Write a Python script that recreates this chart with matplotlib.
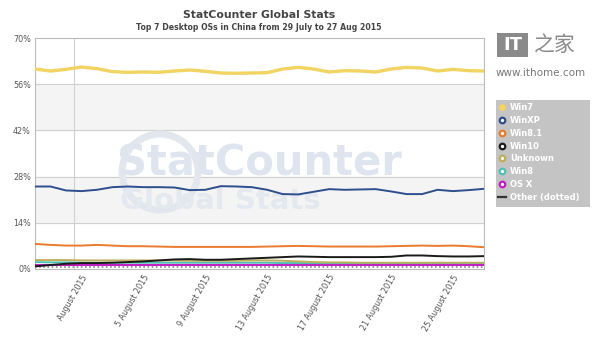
"""StatCounter: top 7 desktop OSs in China, 29 July - 27 Aug 2015."""
import matplotlib
matplotlib.use('Agg')
import matplotlib.pyplot as plt
import matplotlib.patches as patches
from matplotlib.lines import Line2D

plt.rcParams['font.family'] = ['DejaVu Sans', 'Noto Sans CJK SC']

days = list(range(30))  # 29 July .. 27 Aug
tick_days = [3, 7, 11, 15, 19, 23, 27]
tick_labels = ['August 2015', '5 August 2015', '9 August 2015', '13 August 2015',
               '17 August 2015', '21 August 2015', '25 August 2015']

win7 = [60.6, 60.0, 60.5, 61.2, 60.7, 59.8, 59.6, 59.7, 59.6, 60.0,
        60.3, 59.9, 59.4, 59.3, 59.4, 59.5, 60.6, 61.1, 60.6, 59.7,
        60.1, 60.0, 59.7, 60.6, 61.1, 60.9, 60.0, 60.5, 60.1, 60.0]
winxp = [25.0, 25.0, 23.8, 23.6, 24.0, 24.8, 25.0, 24.8, 24.8, 24.7,
         23.9, 24.0, 25.1, 25.0, 24.8, 24.0, 22.7, 22.6, 23.4, 24.2,
         24.0, 24.1, 24.2, 23.5, 22.7, 22.7, 24.0, 23.6, 23.9, 24.3]
win81 = [7.6, 7.3, 7.1, 7.1, 7.3, 7.1, 6.9, 6.9, 6.8, 6.7,
         6.7, 6.7, 6.7, 6.7, 6.7, 6.8, 6.9, 7.0, 6.9, 6.8,
         6.8, 6.8, 6.8, 6.9, 7.0, 7.1, 7.0, 7.1, 6.9, 6.6]
win10 = [0.8, 1.2, 1.6, 1.8, 1.8, 1.9, 2.1, 2.3, 2.6, 2.9,
         3.0, 2.8, 2.8, 3.0, 3.2, 3.4, 3.6, 3.8, 3.7, 3.6,
         3.6, 3.6, 3.6, 3.7, 4.1, 4.1, 3.9, 3.8, 3.8, 3.9]
unknown = [2.7, 2.7, 2.7, 2.6, 2.6, 2.6, 2.6, 2.6, 2.6, 2.6,
           2.5, 2.5, 2.5, 2.5, 2.6, 2.6, 2.5, 2.3, 2.1, 2.0,
           2.0, 1.9, 1.9, 1.9, 1.9, 1.9, 1.9, 1.9, 1.9, 1.9]
win8 = [2.1, 2.0, 2.0, 1.9, 1.9, 1.9, 1.9, 1.9, 1.9, 1.9,
        1.9, 1.9, 1.9, 1.9, 1.9, 1.9, 1.8, 1.8, 1.8, 1.8,
        1.8, 1.8, 1.8, 1.8, 1.8, 1.8, 1.8, 1.8, 1.8, 1.8]
osx = [1.3, 1.3, 1.3, 1.3, 1.3, 1.3, 1.3, 1.3, 1.3, 1.3,
       1.3, 1.3, 1.3, 1.3, 1.3, 1.3, 1.3, 1.3, 1.3, 1.3,
       1.3, 1.3, 1.3, 1.3, 1.3, 1.3, 1.3, 1.3, 1.3, 1.3]
other = [0.5] * 30

series = [
    ('Win7', win7, '#f2d462', 2.4),
    ('WinXP', winxp, '#2e4e8e', 1.4),
    ('Win8.1', win81, '#ea7a2c', 1.4),
    ('Win10', win10, '#1a1a1a', 1.4),
    ('Unknown', unknown, '#bdae5a', 1.4),
    ('Win8', win8, '#4dbfb5', 1.4),
    ('OS X', osx, '#c21ac2', 1.4),
]

fig = plt.figure(figsize=(6, 3.51), dpi=100)
ax = fig.add_axes([35/600, 1 - 269/351, 449/600, 231/351])
ax.set_xlim(0, 29)
ax.set_ylim(0, 70)

# alternating bands
for lo in (14, 42):
    ax.axhspan(lo, lo + 14, color='#f4f4f4', zorder=0)
for y in (14, 28, 42, 56):
    ax.axhline(y, color='#d0d0d0', lw=0.8, zorder=1)
ax.axvline(2.5, color='#d0d0d0', lw=0.8, zorder=1)

# watermark (globe + text)
ax.add_patch(patches.Ellipse((160/600, 1 - 172/351), 76/600, 76/351,
                             transform=fig.transFigure, facecolor='none',
                             edgecolor='#e2e7ee', lw=5, zorder=1))
ax.text(14.5, 32, 'StatCounter', fontsize=30, fontweight='bold', color='#dfe5ee',
        ha='center', va='center', zorder=1)
ax.text(12, 20.5, 'Global Stats', fontsize=21, fontweight='bold', color='#e4e9f0',
        ha='center', va='center', zorder=1)

ax.plot(days, other, color='#888888', lw=1.2, ls=(0, (1, 1.5)), zorder=2)
for name, vals, color, lw in reversed(series):
    ax.plot(days, vals, color=color, lw=lw, zorder=3)

ax.set_yticks([0, 14, 28, 42, 56, 70])
ax.set_yticklabels(['0%', '14%', '28%', '42%', '56%', '70%'])
ax.set_xticks(tick_days)
ax.set_xticklabels(tick_labels, rotation=60, ha='right', va='top',
                   rotation_mode='anchor')
ax.tick_params(length=0, labelsize=5.8, labelcolor='#555555', pad=3)
for s in ax.spines.values():
    s.set_color('#bbbbbb')
    s.set_linewidth(0.8)

fig.text(259/600, 1 - 15/351, 'StatCounter Global Stats', fontsize=7.8,
         fontweight='bold', color='#444444', ha='center', va='center')
fig.text(259/600, 1 - 28/351,
         'Top 7 Desktop OSs in China from 29 July to 27 Aug 2015',
         fontsize=5.6, fontweight='bold', color='#444444', ha='center', va='center')

# legend box
lx0, ly0, lw_, lh = 496/600, 1 - 207/351, 94/600, 107/351
fig.patches.append(patches.Rectangle((lx0, ly0), lw_, lh, transform=fig.transFigure,
                                     facecolor='#c4c4c4', edgecolor='none'))
handles = [Line2D([], [], ls='none', marker='o', ms=4, mfc='#ffffff',
                  mec=c, mew=1.6) for _, _, c, _ in series]
handles[0] = Line2D([], [], ls='none', marker='o', ms=4, mfc='#f2d462',
                    mec='#f2d462')
handles.append(Line2D([], [], color='#333333', lw=1.6))
labels = [n for n, _, _, _ in series] + ['Other (dotted)']
leg = fig.legend(handles, labels, loc='upper left',
                 bbox_to_anchor=(lx0 - 0.002, ly0 + lh),
                 frameon=False, fontsize=6, handlelength=1.0, handletextpad=0.4,
                 labelspacing=0.45, borderaxespad=0)
for t in leg.get_texts():
    t.set_color('white')
    t.set_fontweight('bold')

# IT之家 logo
fig.patches.append(patches.Rectangle((497/600, 1 - 57/351), 31/600, 24/351,
                                     transform=fig.transFigure,
                                     facecolor='#8a8a8a', edgecolor='none'))
fig.text(512.5/600, 1 - 45/351, 'IT', fontsize=13, fontweight='bold',
         color='white', ha='center', va='center')
fig.text(555/600, 1 - 45/351, '之家', fontsize=15, color='#8a8a8a',
         ha='center', va='center', family=['Noto Sans CJK SC'])
fig.text(541/600, 1 - 73/351, 'www.ithome.com', fontsize=7.5, color='#777777',
         ha='center', va='center')

plt.savefig('out.png', dpi=100)
